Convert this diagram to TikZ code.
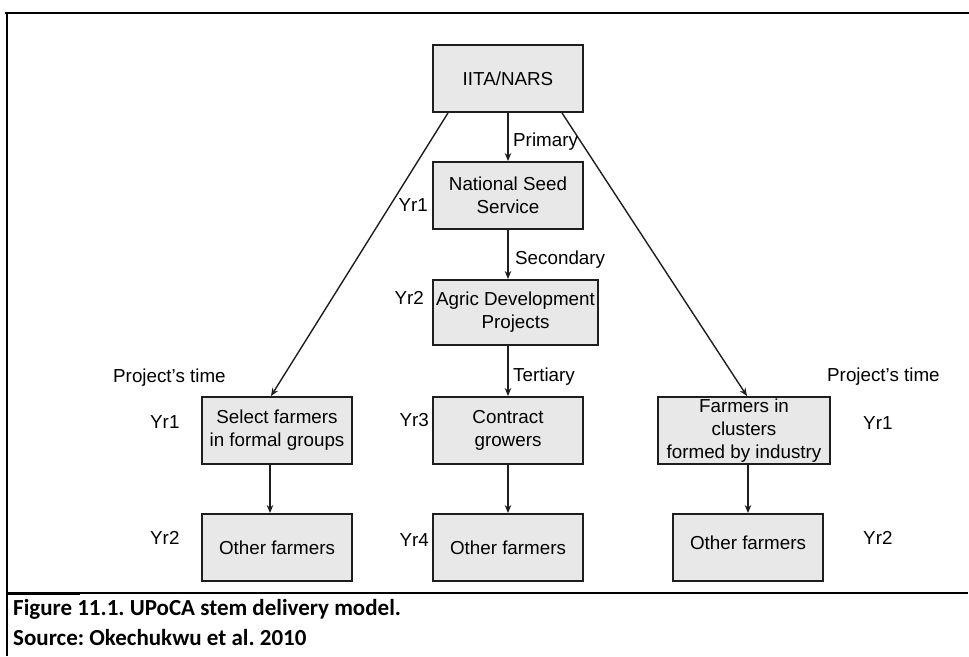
\documentclass[tikz,border=0pt]{standalone}
\usepackage{fontspec}
\setmainfont{Liberation Sans}
\newfontfamily\capfont{Carlito}
\usetikzlibrary{arrows.meta}
\definecolor{boxfill}{RGB}{232,232,232}
\definecolor{boxline}{RGB}{30,30,30}
\tikzset{
  stagebox/.style={draw=boxline, line width=1.9pt, fill=boxfill, inner sep=0pt,
    align=center, font=\fontsize{18.8}{23}\selectfont},
  arr/.style={line width=1.4pt, draw=boxline, -{Stealth[length=8pt,width=6.5pt]}},
  lbl/.style={inner sep=0pt, font=\fontsize{18.8}{23}\selectfont},
  frameline/.style={line width=2.4pt, black},
  captext/.style={inner sep=0pt, anchor=base west, font=\capfont\bfseries\fontsize{23}{27}\selectfont\frenchspacing}
}
\begin{document}
\begin{tikzpicture}[x=1pt,y=-1pt]
\useasboundingbox (0,0) rectangle (969,656);
% frame
\draw[frameline] (5,13) -- (969,13);
\draw[frameline] (7,12) -- (7,656);
\draw[line width=2pt] (7,593) -- (968,593);
\draw[line width=1pt] (7,594.5) -- (80,594.5);
% boxes
\node[stagebox, minimum width=150pt, minimum height=67pt] (iita) at (508,78.5) {IITA/NARS};
\node[stagebox, minimum width=150pt, minimum height=67pt] (nss) at (508,195.5) {National Seed\\Service};
\node[stagebox, minimum width=165pt, minimum height=65pt] (adp) at (515.5,312.5) {Agric Development\\Projects};
\node[stagebox, minimum width=150pt, minimum height=67pt] (sel) at (277,430.5) {Select farmers\\in formal groups};
\node[stagebox, minimum width=150pt, minimum height=67pt] (con) at (508,430.5) {Contract\\growers};
\node[stagebox, minimum width=172pt, minimum height=67pt] (clu) at (744,430.5) {Farmers in\\clusters\\formed by industry};
\node[stagebox, minimum width=150pt, minimum height=67pt] (oth1) at (277,547.5) {\raisebox{-5pt}{Other farmers}};
\node[stagebox, minimum width=150pt, minimum height=67pt] (oth2) at (508,547.5) {\raisebox{-6pt}{Other farmers}};
\node[stagebox, minimum width=150pt, minimum height=67pt] (oth3) at (748,547.5) {\raisebox{9pt}{Other farmers}};
% connectors
\draw[arr] (iita.south) -- (nss.north);
\draw[arr] (nss.south) -- (nss.south |- adp.north);
\draw[arr] (con.north |- adp.south) -- (con.north);
\draw[arr] (con.south) -- (oth2.north);
\draw[arr] ([xshift=-7pt]sel.south) -- ([xshift=-7pt]oth1.north);
\draw[arr] (oth3.north |- clu.south) -- (oth3.north);
\draw[arr] ([xshift=-60pt]iita.south) -- ([xshift=-6pt]sel.north);
\draw[arr] ([xshift=54pt]iita.south) -- ([xshift=3pt]clu.north);
% labels
\node[lbl, anchor=west] (lprim) at (513,142) {Primary};
\node[lbl, anchor=west] (lsec) at (515,260) {Secondary};
\node[lbl, anchor=west] (lter) at (513,377) {Tertiary};
\node[lbl, anchor=east] (y1c) at (428,205) {Yr1};
\node[lbl, anchor=east] (y2c) at (424,298) {Yr2};
\node[lbl, anchor=east] (y3c) at (429,420) {Yr3};
\node[lbl, anchor=east] (y4c) at (429,540) {Yr4};
\node[lbl, anchor=west] (y1l) at (150,422) {Yr1};
\node[lbl, anchor=west] (y2l) at (150,538) {Yr2};
\node[lbl, anchor=west] (ptl) at (113,378) {Project's time};
\node[lbl, anchor=west] (y1r) at (863,423) {Yr1};
\node[lbl, anchor=west] (y2r) at (863,538) {Yr2};
\node[lbl, anchor=west] (ptr) at (827,377) {Project's time};
% caption
\node[captext] (cap1) at (13,615) {Figure 11.1. UPoCA stem delivery model.};
\node[captext] (cap2) at (13,645) {Source: Okechukwu et al. 2010};
\end{tikzpicture}
\end{document}
